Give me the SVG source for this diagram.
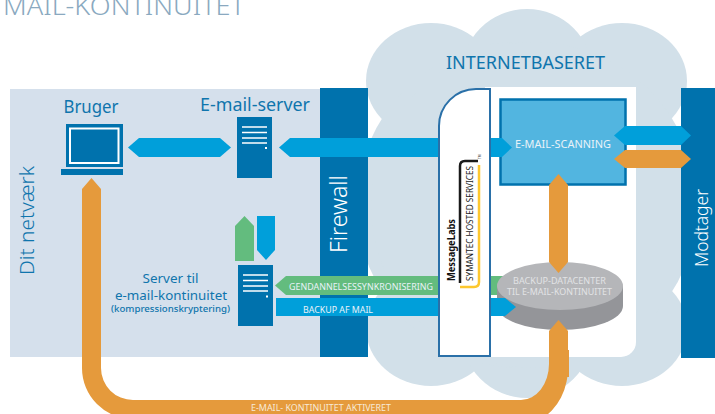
<svg xmlns="http://www.w3.org/2000/svg" width="715" height="414" viewBox="0 0 715 414">
<style>
text{font-family:"Noto Sans","Open Sans","Liberation Sans",sans-serif}
.b{fill:#0f75ad}.w{fill:#fff}.s{fill:#e9f2f8}.g{fill:#e2e3e5}
.navy{fill:#0072ad}.cy{fill:#009fda}.or{fill:#e59a3c}.gr{fill:#63bc7e}
.ln{stroke:#fff;stroke-width:1.3;fill:none}
.cl{fill:#d2e0e9}
.t{font-weight:300}
</style>
<rect width="715" height="414" fill="#fff"/>
<g id="background">
<rect x="10" y="89" width="312" height="268" fill="#d5e0ec"/>
<ellipse class="cl" cx="431" cy="81" rx="65" ry="58"/>
<ellipse class="cl" cx="622" cy="81" rx="65" ry="58"/>
<ellipse class="cl" cx="431" cy="328" rx="65" ry="58"/>
<ellipse class="cl" cx="622" cy="328" rx="65" ry="58"/>
<circle class="cl" cx="527" cy="75" r="66"/>
<circle class="cl" cx="527" cy="332" r="66"/>
<circle class="cl" cx="520" cy="205" r="163"/>
<circle class="cl" cx="534" cy="205" r="163"/>
<path d="M485 87H636V342A15 15 0 0 1 621 357H485Z" fill="#fff"/>
<text x="3" y="15" font-size="25" fill="#8aa9c0" class="t" textLength="242" lengthAdjust="spacingAndGlyphs">MAIL-KONTINUITET</text>
<text x="446" y="69" font-size="18" class="b" textLength="159" lengthAdjust="spacingAndGlyphs">INTERNETBASERET</text>
<text transform="translate(34 275) rotate(-90)" font-size="20" class="b t" textLength="109" lengthAdjust="spacingAndGlyphs">Dit netværk</text>
</g>
<g id="firewall">
<rect x="320" y="88" width="48" height="269" class="navy"/>
<text transform="translate(347 253) rotate(-90)" font-size="23" class="w t" textLength="78" lengthAdjust="spacingAndGlyphs">Firewall</text>
</g>
<g id="modtager">
<rect x="681" y="88" width="34" height="270" class="navy"/>
<text transform="translate(708 267) rotate(-90)" font-size="19" class="w t" textLength="78" lengthAdjust="spacingAndGlyphs">Modtager</text>
</g>
<g id="bruger">
<text x="63.500" y="113" font-size="18" class="b" textLength="55" lengthAdjust="spacingAndGlyphs">Bruger</text>
<rect x="66" y="124" width="57" height="43" class="navy"/>
<rect x="70" y="128.500" width="48.500" height="34.500" fill="none" stroke="#fff" stroke-width="2"/>
<rect x="61" y="169" width="62" height="6" class="navy"/>
</g>
<g id="email-server">
<text x="200" y="111" font-size="18" class="b" textLength="110" lengthAdjust="spacingAndGlyphs">E-mail-server</text>
<rect x="237" y="117" width="35" height="61" class="navy"/>
<path class="ln" d="M242 127H267M242 132.500H267M242 138H267M242 143H267"/>
<rect x="265" y="147" width="2" height="2" fill="#fff"/>
</g>
<g id="kontinuitet-server">
<text x="170.500" y="283" font-size="13" class="b" text-anchor="middle" textLength="56" lengthAdjust="spacingAndGlyphs">Server til</text>
<text x="171" y="300" font-size="13" class="b" text-anchor="middle" textLength="112" lengthAdjust="spacingAndGlyphs">e-mail-kontinuitet</text>
<text x="170.500" y="312" font-size="9.500" font-weight="500" class="b" text-anchor="middle" textLength="119" lengthAdjust="spacingAndGlyphs">(kompressionskryptering)</text>
<rect x="238" y="265" width="35" height="61" class="navy"/>
<path class="ln" d="M243 275H268M243 280.500H268M243 286H268M243 291H268"/>
<rect x="266" y="295.500" width="2" height="2" fill="#fff"/>
</g>
<g id="email-scanning">
<rect x="500.500" y="99.500" width="125" height="85" fill="#52b5e0" stroke="#0072ad" stroke-width="2.500"/>
</g>
<g id="connectors-behind">
<rect class="gr" x="489" y="276" width="30" height="19"/>
</g>
<g id="backup-datacenter">
<path d="M497 286V306A63 24 0 0 0 623 306V286Z" fill="#949599"/>
<ellipse cx="560" cy="286" rx="63" ry="24" fill="#b5b6b9"/>
</g>
<g id="connectors">
<polygon class="cy" points="128,147.500 139,138 220,138 231,147.500 220,157 139,157"/>
<polygon class="cy" points="279,147.500 290,138 440,138 440,157 290,157"/>
<polygon class="cy" points="489,138 502,138 512,147.500 502,157 489,157"/>
<polygon class="cy" points="614,135.500 625,126 681,126 691,135.500 681,145 625,145"/>
<polygon class="or" points="614,159 625,150 681,150 691,159 681,168 625,168"/>
<polygon class="or" points="558.500,174 568,185 568,262 558.500,273 549,262 549,185"/>
<polygon class="gr" points="275,285.500 286,276 440,276 440,295 286,295"/>
<polygon class="cy" points="276,298 440,298 440,316 276,316"/>
<polygon class="cy" points="489,298 505,298 516,307 505,316 489,316"/>
<polygon class="gr" points="244.500,216 254,226 254,261 235,261 235,226"/>
<polygon class="cy" points="257,216 275,216 275,250 266,260 257,250"/>
<path class="or" d="M91.500 178L101 189V368A32 32 0 0 0 133 400H521A28 36 0 0 0 549 364V331L558.500 320L568 331V364A42 55 0 0 1 540 419H133A51 51 0 0 1 82 368V189Z"/>
<rect x="567" y="350" width="2" height="27" class="or"/>
</g>
<g id="labels">
<text x="515" y="148" font-size="11" class="s" textLength="96" lengthAdjust="spacingAndGlyphs">E-MAIL-SCANNING</text>
<text x="289" y="290" font-size="9.500" class="s" textLength="144" lengthAdjust="spacingAndGlyphs">GENDANNELSESSYNKRONISERING</text>
<text x="303" y="313" font-size="9.500" class="s" textLength="70" lengthAdjust="spacingAndGlyphs">BACKUP AF MAIL</text>
<text x="513" y="284" font-size="9" class="g" textLength="93" lengthAdjust="spacingAndGlyphs">BACKUP-DATACENTER</text>
<text x="507" y="295" font-size="9" class="g" textLength="105" lengthAdjust="spacingAndGlyphs">TIL E-MAIL-KONTINUITET</text>
<text x="251" y="411" font-size="8.500" fill="#f7ead8" textLength="140" lengthAdjust="spacingAndGlyphs">E-MAIL- KONTINUITET AKTIVERET</text>
</g>
<g id="messagelabs">
<path d="M439 356V126A37 37 0 0 1 476 89H490V356Z" fill="#fff" stroke="#2a70a8" stroke-width="2"/>
<text transform="translate(455 281) rotate(-90)" font-size="10" font-weight="700" fill="#111" textLength="62" lengthAdjust="spacingAndGlyphs">MessageLabs</text>
<text transform="translate(473 281) rotate(-90)" font-size="8.500" fill="#222" textLength="115" lengthAdjust="spacingAndGlyphs">SYMANTEC HOSTED SERVICES</text>
<path d="M460 283V166Q460 161 465 161H478" fill="none" stroke="#1a1a1a" stroke-width="2.500"/>
<path d="M479 165V282Q479 287 474 287H460" fill="none" stroke="#fdc82f" stroke-width="2.500"/>
<text transform="translate(481 159) rotate(-90)" font-size="3" fill="#333">TM</text>
</g>
</svg>
